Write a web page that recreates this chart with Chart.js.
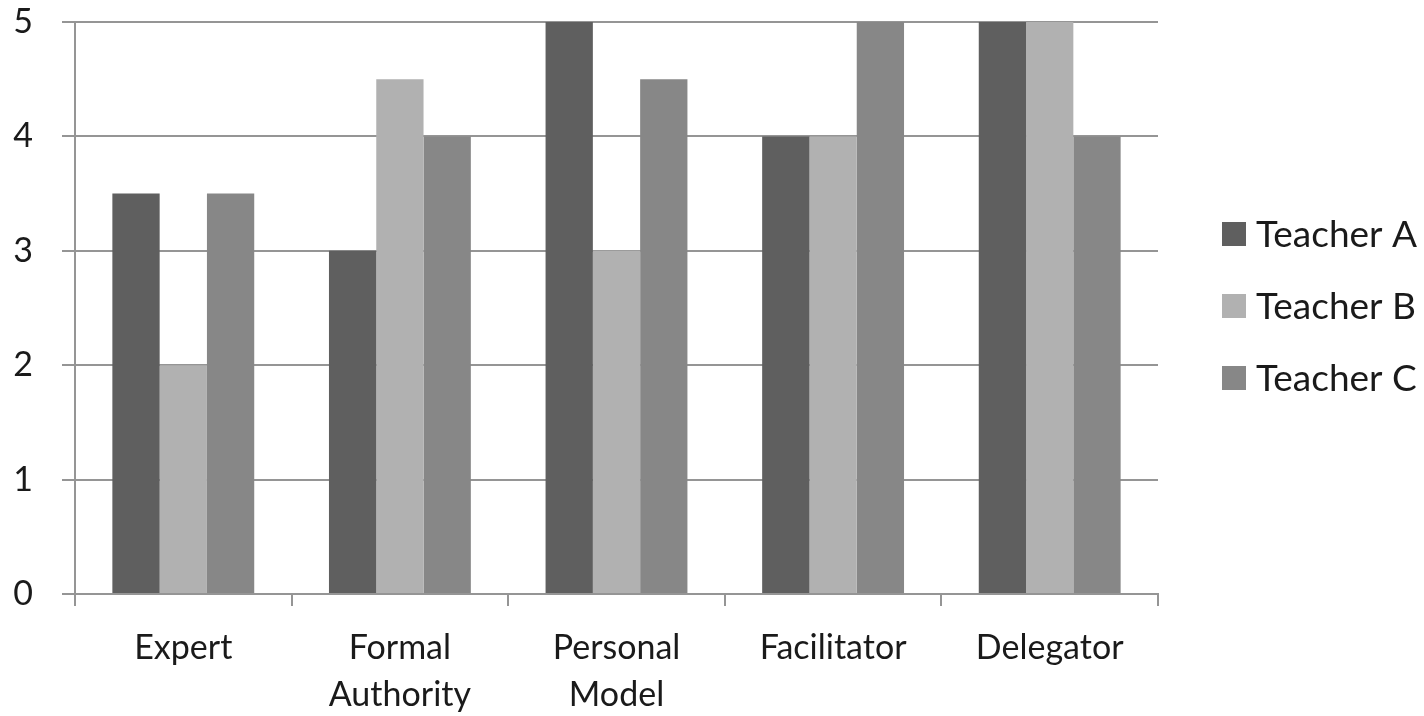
<!DOCTYPE html>
<html>
<head>
<meta charset="utf-8">
<script src="https://cdn.jsdelivr.net/npm/chart.js@4/dist/chart.umd.min.js"></script>
<style>
  html, body { margin: 0; padding: 0; background: #fff; }
  #wrap { width: 1424px; height: 716px; }
</style>
</head>
<body>
<div id="wrap"><canvas id="c" width="1424" height="716"></canvas></div>
<script>
// Teaching-style scores per teacher
const categories = ['Expert', ['Formal', 'Authority'], ['Personal', 'Model'], 'Facilitator', 'Delegator'];
const teacherA = [3.5, 3, 5, 4, 5];
const teacherB = [2, 4.5, 3, 4, 5];
const teacherC = [3.5, 4, 4.5, 5, 4];
const seriesNames = ['Teacher A', 'Teacher B', 'Teacher C'];
const yTicks = [0, 1, 2, 3, 4, 5];

const colors = ['#5f5f5f', '#b1b1b1', '#878787'];
const lineColor = '#959595';
const textColor = '#1a1a1a';
const fontFamily = 'Lato, "Open Sans", sans-serif';

// Legend drawn at the right of the plot, stacked vertically
const sideLegend = {
  id: 'sideLegend',
  afterDraw(chart) {
    const ctx = chart.ctx;
    const area = chart.chartArea;
    const mid = 306;
    const gap = 72;
    const n = chart.data.datasets.length;
    ctx.save();
    ctx.font = '37px ' + fontFamily;
    ctx.textBaseline = 'middle';
    ctx.textAlign = 'left';
    chart.data.datasets.forEach((ds, i) => {
      const cy = mid + (i - (n - 1) / 2) * gap;
      ctx.fillStyle = ds.backgroundColor;
      ctx.fillRect(area.right + 64, cy - 12, 24, 24);
      ctx.fillStyle = textColor;
      ctx.fillText(ds.label, area.right + 98, cy + 1);
    });
    ctx.restore();
  }
};

new Chart(document.getElementById('c'), {
  type: 'bar',
  data: {
    labels: categories,
    datasets: [
      { label: seriesNames[0], data: teacherA, backgroundColor: colors[0] },
      { label: seriesNames[1], data: teacherB, backgroundColor: colors[1] },
      { label: seriesNames[2], data: teacherC, backgroundColor: colors[2] }
    ]
  },
  options: {
    responsive: false,
    animation: false,
    devicePixelRatio: 1,
    layout: { padding: { top: 22, right: 266, bottom: 0, left: 0 } },
    datasets: {
      bar: { categoryPercentage: 0.655, barPercentage: 1.0, borderWidth: 0 }
    },
    plugins: {
      legend: { display: false },
      tooltip: { enabled: false }
    },
    scales: {
      x: {
        offset: true,
        grid: {
          offset: true,
          drawOnChartArea: false,
          drawTicks: true,
          tickLength: 12,
          color: lineColor,
          lineWidth: 2
        },
        border: { color: lineColor, width: 2 },
        ticks: {
          color: textColor,
          padding: 18,
          maxRotation: 0,
          autoSkip: false,
          font: { family: fontFamily, size: 34, lineHeight: 1.4 }
        },
        afterFit(scale) {
          scale.height = 122;
          scale.paddingLeft = 0;
          scale.paddingRight = 0;
        }
      },
      y: {
        min: 0,
        max: 5,
        afterBuildTicks(scale) { scale.ticks = yTicks.map(v => ({ value: v })); },
        grid: {
          color: lineColor,
          lineWidth: 2,
          drawTicks: true,
          tickLength: 13
        },
        border: { color: lineColor, width: 2 },
        ticks: {
          color: textColor,
          padding: 29,
          font: { family: fontFamily, size: 34 }
        },
        afterFit(scale) {
          scale.width = 75;
          scale.paddingTop = 0;
          scale.paddingBottom = 0;
        }
      }
    }
  },
  plugins: [sideLegend]
});
</script>
</body>
</html>
